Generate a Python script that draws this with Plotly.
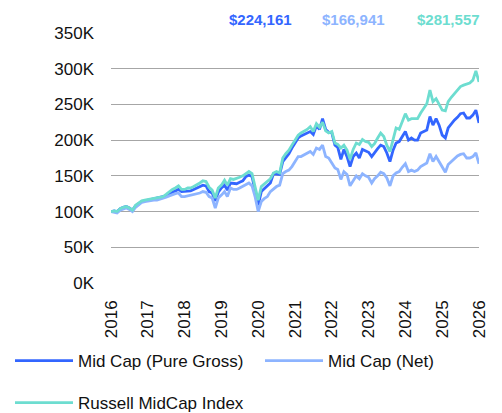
import pandas as pd
import plotly.graph_objects as go

# ---- data (values in $ thousands, monthly from Jan 2016) ----
start_month = "2016-01-01"
n_months = 121

russell = [
    100, 101, 100, 104, 106, 107, 105, 102, 109, 112, 115, 116,
    117, 117, 118, 119, 120, 121, 124, 128, 131, 133, 136, 131,
    131, 133, 133, 135, 137, 140, 143, 142, 134, 130, 119, 133,
    137, 144, 137, 146, 145, 146, 148, 150, 153, 156, 153, 135,
    116, 135, 139, 143, 146, 154, 156, 154, 175, 181, 186, 193,
    200, 207, 210, 212, 215, 219, 212, 223, 218, 225, 213, 210,
    212, 196, 194, 189, 193, 186, 173, 187, 196, 194, 201, 198,
    197, 191, 195, 203, 210, 205, 193, 184, 200, 217, 215, 225,
    237, 228, 230, 230, 230, 238, 244, 251, 270, 254, 258, 251,
    242, 241, 254, 260, 265, 271, 275, 277, 279, 280, 284, 297,
    281.557,
]

gross = [
    100, 101, 100, 104, 106, 107, 105, 102, 108, 111, 114, 115,
    116, 117, 118, 119, 119, 120, 122, 125, 127, 129, 131, 128,
    128, 128, 129, 131, 133, 135, 137, 136, 128, 126, 115, 127,
    133, 137, 130, 140, 139, 139, 141, 143, 149, 151, 149, 130,
    109, 128, 132, 135, 140, 153, 153, 152, 170, 176, 181, 189,
    196, 203, 206, 208, 210, 212, 208, 220, 215, 230, 215, 211,
    210, 193, 190, 173, 187, 177, 163, 177, 182, 175, 187, 185,
    183, 177, 183, 188, 193, 191, 182, 170, 186, 196, 198, 205,
    212, 200, 203, 200, 200, 210, 212, 214, 233, 221, 230, 221,
    207, 203, 217, 223, 228, 232, 237, 238, 231, 231, 235, 242,
    224.161,
]

net = [
    100, 99, 98, 102, 104, 105, 103, 100, 106, 110, 113, 114,
    115, 115, 116, 116, 117, 118, 120, 122, 124, 125, 126, 121,
    121, 122, 122, 123, 124, 126, 128, 127, 121, 119, 105, 119,
    123, 128, 121, 133, 131, 131, 133, 135, 137, 140, 136, 121,
    100, 114, 118, 121, 128, 132, 135, 137, 153, 156, 158, 163,
    170, 177, 177, 179, 182, 184, 180, 189, 187, 193, 177, 175,
    168, 161, 159, 145, 156, 152, 136, 143, 150, 146, 153, 150,
    148, 140, 146, 150, 155, 153, 147, 136, 150, 154, 156, 162,
    167, 156, 158, 156, 158, 163, 166, 168, 181, 170, 177, 170,
    161, 155, 166, 170, 175, 178, 180, 181, 175, 175, 177, 182,
    166.941,
]

year_labels = [str(y) for y in range(2016, 2027)]
y_ticks = [0, 50, 100, 150, 200, 250, 300, 350]

series_names = ["Mid Cap (Pure Gross)", "Mid Cap (Net)", "Russell MidCap Index"]
colors = ["#3366FF", "#8DB4FF", "#6DDDD0"]

dates = pd.date_range(start_month, periods=n_months, freq="MS")

FONT = "Liberation Sans, Arial, sans-serif"
W, H = 494, 405

fig = go.Figure()
for name, vals, col, lg in [
    (series_names[0], gross, colors[0], "legend"),
    (series_names[1], net, colors[1], "legend2"),
    (series_names[2], russell, colors[2], "legend3"),
]:
    fig.add_trace(go.Scatter(
        x=dates, y=vals, mode="lines", name=name,
        line=dict(color=col, width=2.8), legend=lg,
    ))

# final value labels above the chart
ann_x = [0.405, 0.66, 0.918]
for vals, col, ax in zip([gross, net, russell], colors, ann_x):
    fig.add_annotation(
        x=ax, y=1.0, xref="paper", yref="paper", yshift=4,
        xanchor="center", yanchor="bottom",
        text=f"<b>${round(vals[-1] * 1000):,}</b>",
        showarrow=False, font=dict(family=FONT, size=15, color=col),
        borderpad=0,
    )


def leg(x_px, y_top_px):
    return dict(
        orientation="h", xref="container", yref="container",
        x=x_px / W, y=1 - y_top_px / H, xanchor="left", yanchor="top",
        itemwidth=58,
        font=dict(family=FONT, size=17, color="#111111"),
        bgcolor="rgba(0,0,0,0)",
    )


fig.update_layout(
    width=W, height=H,
    margin=dict(l=103, r=23, t=25, b=130, autoexpand=False),
    paper_bgcolor="white", plot_bgcolor="white",
    font=dict(family=FONT, size=17, color="#111111"),
    showlegend=True,
    legend=leg(2, 335),
    legend2=leg(252, 335),
    legend3=leg(2, 377),
)

fig.update_xaxes(
    range=[dates[0], dates[-1]],
    tickmode="array",
    tickvals=pd.to_datetime([f"{y}-01-01" for y in year_labels]),
    ticktext=year_labels,
    tickangle=-90,
    showgrid=False, zeroline=False, showline=False,
    ticks="", ticklabelstandoff=13, automargin=False,
    tickfont=dict(family=FONT, size=17, color="#111111"),
)
fig.update_yaxes(
    range=[0, 350],
    tickmode="array", tickvals=y_ticks,
    ticktext=[f"{v}K" for v in y_ticks],
    showgrid=True, gridcolor="#A6A6A6", gridwidth=1,
    zeroline=False, showline=False, ticks="",
    ticklabelstandoff=16, automargin=False,
    tickfont=dict(family=FONT, size=17, color="#111111"),
)

fig.write_html("out.html")
